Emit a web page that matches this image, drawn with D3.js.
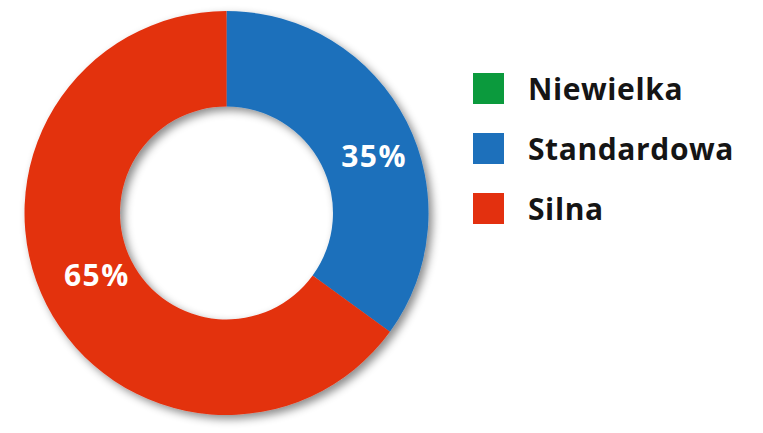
<!DOCTYPE html>
<html><head><meta charset="utf-8">
<script src="https://cdn.jsdelivr.net/npm/d3@7"></script>
<style>html,body{margin:0;padding:0;background:#fff;}svg{display:block;}</style>
</head><body>
<svg id="chart" width="763" height="433"></svg>
<script>
const categories = ["Niewielka", "Standardowa", "Silna"];
const values = [0, 35, 65];
const labels = ["", "35%", "65%"];
const colors = ["#0b9a3d", "#1d70bb", "#e3300f"];
const labelOffsets = [[0,0],[14,11],[4,-7]];

const svg = d3.select("#chart");
const cx = 226.5, cy = 213, rOuter = 202, rInner = 106.5;

const defs = svg.append("defs");
const f = defs.append("filter").attr("id","sh").attr("x","-20%").attr("y","-20%").attr("width","140%").attr("height","140%");
f.append("feDropShadow").attr("dx",4).attr("dy",4).attr("stdDeviation",4).attr("flood-color","#000").attr("flood-opacity",0.45);

const pie = d3.pie().sort(null).value(d => d)(values);
const arc = d3.arc().innerRadius(rInner).outerRadius(rOuter);
const labelArc = d3.arc().innerRadius(150).outerRadius(150);

const g = svg.append("g").attr("transform", `translate(${cx},${cy})`);
g.append("g").attr("filter","url(#sh)")
  .selectAll("path").data(pie.filter(d => d.value > 0)).join("path")
  .attr("d", arc).attr("fill", d => colors[d.index]);

g.selectAll("text.lbl").data(pie.filter(d => d.value > 0)).join("text")
  .attr("class","lbl")
  .attr("x", d => labelArc.centroid(d)[0] + labelOffsets[d.index][0])
  .attr("y", d => labelArc.centroid(d)[1] + labelOffsets[d.index][1])
  .attr("text-anchor","middle").attr("dominant-baseline","central")
  .attr("fill","#fff").attr("font-family","Open Sans").attr("font-weight","bold").attr("font-size",30)
  .attr("letter-spacing",1.5)
  .text(d => labels[d.index]);

const legendY = d3.scaleBand().domain(categories).range([73, 253]);
const lg = svg.append("g");
const items = lg.selectAll("g").data(categories).join("g")
  .attr("transform", d => `translate(473,${legendY(d)})`);
items.append("rect").attr("width",31).attr("height",31).attr("fill",(d,i)=>colors[i]);
items.append("text").attr("x",55).attr("y",15.5).attr("dominant-baseline","central")
  .attr("font-family","Open Sans").attr("font-weight","bold").attr("font-size",30).attr("fill","#151515")
  .attr("letter-spacing",0.6)
  .text(d => d);
</script>
</body></html>
